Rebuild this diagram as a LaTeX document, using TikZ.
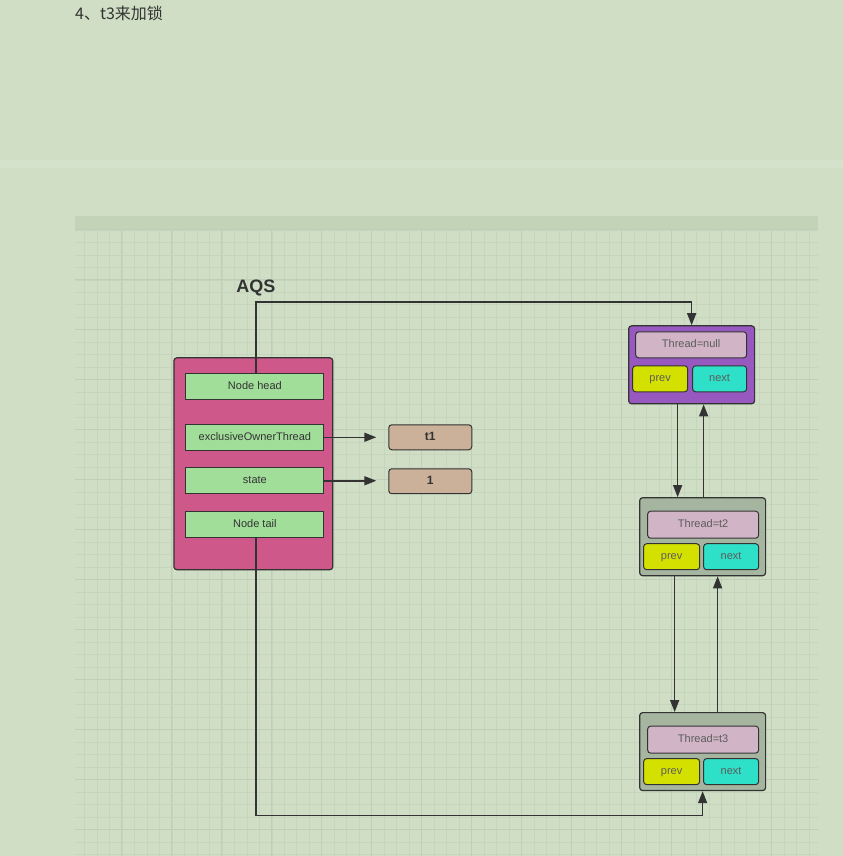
\documentclass[tikz,border=0pt]{standalone}
\usepackage{fontspec}
\setmainfont{Liberation Sans}
\newfontfamily\cjk{Noto Sans CJK SC}
\usetikzlibrary{arrows.meta}

\definecolor{paper}{RGB}{207,222,196}
\definecolor{paperband}{RGB}{213,226,203}
\definecolor{gridhead}{RGB}{194,211,184}
\definecolor{gridminor}{RGB}{198,214,190}
\definecolor{gridmajor}{RGB}{191,207,183}
\definecolor{inkgray}{RGB}{51,51,51}
\definecolor{aqspink}{RGB}{207,88,138}
\definecolor{fieldgreen}{RGB}{161,222,154}
\definecolor{valtan}{RGB}{203,176,154}
\definecolor{headpurple}{RGB}{151,89,192}
\definecolor{nodegray}{RGB}{166,181,160}
\definecolor{threadpink}{RGB}{209,180,198}
\definecolor{prevyellow}{RGB}{212,224,0}
\definecolor{nextcyan}{RGB}{46,224,200}

\begin{document}
\begin{tikzpicture}[x=1pt, y=-1pt,
    field/.style={draw=inkgray, line width=1pt, fill=fieldgreen, minimum width=138pt, minimum height=26pt, inner sep=0pt, text height=8pt, text depth=2pt, text=inkgray, font=\fontsize{11}{13}\selectfont},
    valbox/.style={draw=inkgray, line width=1pt, rounded corners=3pt, fill=valtan, minimum width=83pt, minimum height=25pt, inner sep=0pt, text height=8.5pt, text depth=1.5pt, text=inkgray, font=\fontsize{12}{14}\selectfont\bfseries},
    queuenode/.style={draw=inkgray, line width=1.2pt, rounded corners=3pt, minimum width=126pt, minimum height=78pt},
    threadbox/.style={draw=inkgray, line width=1pt, rounded corners=3pt, fill=threadpink, minimum width=111pt, minimum height=27pt, inner sep=0pt, text height=8pt, text depth=2pt, text=inkgray!80, font=\fontsize{11}{13}\selectfont},
    prevbox/.style={draw=inkgray, line width=1pt, rounded corners=3pt, fill=prevyellow, minimum width=55pt, minimum height=26pt, inner sep=0pt, text height=8pt, text depth=2pt, text=inkgray!80, font=\fontsize{11}{13}\selectfont},
    nextbox/.style={prevbox, fill=nextcyan},
    link/.style={draw=inkgray, line width=1.5pt, -{Triangle[length=12pt,width=9pt]}}]

    % Page and grid paper
    \fill[paper] (0,0) rectangle (843,856);
    \fill[paperband] (0,160) rectangle (843,168);
    \fill[gridhead] (75,216) rectangle (818,230);
    \foreach \i in {1,...,59}
        \draw[gridminor, line width=0.7pt] ({72+12.5*\i},230) -- ({72+12.5*\i},856);
    \foreach \j in {0,...,50}
        \draw[gridminor, line width=0.7pt] (75,{230+12.5*\j}) -- (818,{230+12.5*\j});
    \foreach \i in {1,...,14}
        \draw[gridmajor, line width=0.9pt] ({72+50*\i},230) -- ({72+50*\i},856);
    \foreach \j in {0,...,12}
        \draw[gridmajor, line width=0.9pt] (75,{230+50*\j}) -- (818,{230+50*\j});

    % Title
    \node[anchor=west, inner sep=0pt, text=inkgray, font=\cjk\fontsize{16}{18}\selectfont] (title) at (75,13) {4、t3来加锁};

    % AQS object
    \node[font=\fontsize{18}{20}\selectfont\bfseries, text=inkgray] (aqslabel) at (256,288) {AQS};
    \node[draw=inkgray, line width=1.2pt, rounded corners=3pt, fill=aqspink, minimum width=159pt, minimum height=212pt] (aqs) at (253.5,464) {};
    \node[field] (head) at (255,387) {Node head};
    \node[field] (owner) at (255,437.5) {exclusiveOwnerThread};
    \node[field] (state) at (255,481) {state};
    \node[field] (tail) at (255,524.5) {Node tail};

    % Values
    \node[valbox] (ownerval) at (430.5,437.5) {t1};
    \node[valbox] (stateval) at (430.5,481.5) {1};
    \draw[link, shorten >=12pt] (owner.east) -- (ownerval.west |- owner.east);
    \draw[link, shorten >=12pt] (state.east) -- (stateval.west |- state.east);

    % Wait queue
    \node[queuenode, fill=headpurple] (q1) at (692,365) {};
    \node[threadbox, minimum height=26pt] (q1thread) at (691.5,345) {Thread=null};
    \node[prevbox] (q1prev) at (660.5,379) {prev};
    \node[nextbox, minimum width=54pt] (q1next) at (720,379) {next};

    \node[queuenode, fill=nodegray] (q2) at (703,537) {};
    \node[threadbox] (q2thread) at (703.5,525) {Thread=t2};
    \node[prevbox, minimum width=56pt] (q2prev) at (672,557) {prev};
    \node[nextbox] (q2next) at (731.5,557) {next};

    \node[queuenode, fill=nodegray] (q3) at (703,752) {};
    \node[threadbox] (q3thread) at (703.5,740) {Thread=t3};
    \node[prevbox, minimum width=56pt] (q3prev) at (672,772) {prev};
    \node[nextbox] (q3next) at (731.5,772) {next};

    % head and tail pointers
    \coordinate (headtop) at (256,302);
    \coordinate (tailbottom) at (256,816);
    \draw[link] ([xshift=1pt]head.north) -- (headtop) -| (q1.north);
    \draw[link] ([xshift=1pt]tail.south) -- (tailbottom) -| (q3.south);

    % next / prev links
    \draw[link] ([xshift=-14pt]q1.south) -- ([xshift=-25pt]q2.north);
    \draw[link] ([xshift=1pt]q2.north) -- ([xshift=12pt]q1.south);
    \draw[link] ([xshift=-28pt]q2.south) -- ([xshift=-28pt]q3.north);
    \draw[link] ([xshift=15pt]q3.north) -- ([xshift=15pt]q2.south);
\end{tikzpicture}
\end{document}
